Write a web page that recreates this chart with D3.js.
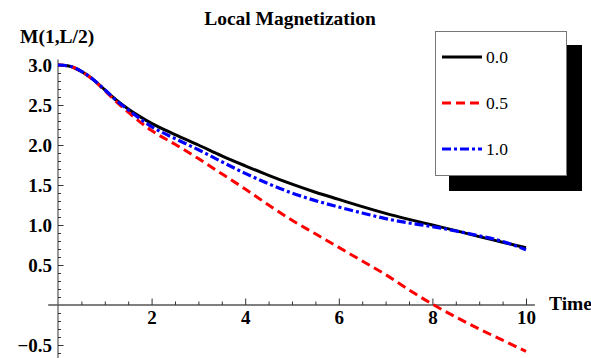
<!DOCTYPE html>
<html>
<head>
<meta charset="utf-8">
<script src="https://cdn.jsdelivr.net/npm/d3@7"></script>
<style>
  html, body { margin: 0; padding: 0; background: #fff; }
  svg { display: block; }
  text { font-family: "Liberation Serif", "Times New Roman", serif; }
</style>
</head>
<body>
<svg id="chart" width="591" height="358"></svg>
<script>
// ---- data ----
const times = [0, 0.25, 0.5, 0.75, 1, 1.25, 1.5, 1.75, 2, 2.5, 3, 3.5, 4, 4.5, 5, 5.5, 6, 6.5, 7, 7.5, 8, 8.5, 9, 9.5, 10];
const series00 = [3.00, 2.985, 2.92, 2.82, 2.69, 2.56, 2.45, 2.355, 2.27, 2.13, 2.00, 1.865, 1.74, 1.62, 1.51, 1.41, 1.32, 1.23, 1.145, 1.07, 1.00, 0.93, 0.855, 0.785, 0.715];
const series05 = [3.00, 2.985, 2.92, 2.815, 2.68, 2.54, 2.41, 2.29, 2.18, 2.01, 1.83, 1.64, 1.45, 1.25, 1.06, 0.89, 0.72, 0.55, 0.38, 0.19, 0.01, -0.15, -0.30, -0.44, -0.58];
const series10 = [3.00, 2.985, 2.92, 2.82, 2.69, 2.555, 2.44, 2.33, 2.23, 2.08, 1.94, 1.79, 1.645, 1.515, 1.40, 1.305, 1.225, 1.15, 1.08, 1.025, 0.98, 0.925, 0.865, 0.795, 0.69];
const seriesNames = ["0.0", "0.5", "1.0"];
const xMajorTicks = [2, 4, 6, 8, 10];
const yMajorTicks = [-0.5, 0.5, 1.0, 1.5, 2.0, 2.5, 3.0];
const titleText = "Local Magnetization";
const yLabelText = "M(1,L/2)";
const xLabelText = "Time";

// ---- layout ----
const svg = d3.select("#chart");
const x = d3.scaleLinear().domain([0, 10]).range([58, 526]);
const y = d3.scaleLinear().domain([0, 3]).range([305, 65]);

const styles = [
  { color: "#000", dash: null, width: 3 },
  { color: "#ff0000", dash: "9,5", width: 3 },
  { color: "#0000ff", dash: "9,3,3,3", width: 3.2 }
];
const allSeries = [series00, series05, series10];

// minor tick values
const xMinor = d3.range(0.5, 10.01, 0.5).filter(v => Math.abs(v / 2 - Math.round(v / 2)) > 1e-6);
const yMinor = d3.range(-6, 31).map(i => i / 10).filter(v => Math.abs(v * 2 - Math.round(v * 2)) > 1e-6);

// axis lines
svg.append("line").attr("x1", x(-0.21)).attr("x2", x(10.19)).attr("y1", y(0)).attr("y2", y(0))
  .attr("stroke", "#000").attr("stroke-width", 1.2);
svg.append("line").attr("x1", x(0)).attr("x2", x(0)).attr("y1", y(3.07)).attr("y2", 358)
  .attr("stroke", "#555").attr("stroke-width", 1.2);

// x axis
const gxMinor = svg.append("g").attr("transform", `translate(0,${y(0)})`)
  .call(d3.axisBottom(x).tickValues(xMinor).tickSize(-3.5).tickFormat(""));
const gx = svg.append("g").attr("transform", `translate(0,${y(0)})`)
  .call(d3.axisBottom(x).tickValues(xMajorTicks).tickSize(-6.5).tickPadding(7).tickFormat(d3.format("d")));
// y axis
const gyMinor = svg.append("g").attr("transform", `translate(${x(0)},0)`)
  .call(d3.axisLeft(y).tickValues(yMinor).tickSize(-3).tickFormat(""));
const gy = svg.append("g").attr("transform", `translate(${x(0)},0)`)
  .call(d3.axisLeft(y).tickValues(yMajorTicks).tickSize(-5.5).tickPadding(6).tickFormat(d3.format(".1f")));

[gxMinor, gx, gyMinor, gy].forEach(g => {
  g.select(".domain").remove();
  g.selectAll(".tick line").attr("stroke", "#333").attr("stroke-width", 1);
  g.selectAll("text").attr("font-family", "'Liberation Serif', 'Times New Roman', serif")
    .attr("font-size", 19).attr("font-weight", "bold").attr("fill", "#000");
});
gx.selectAll("text").attr("dy", "0.71em").attr("y", 6);

// lines
const line = d3.line().x((d, i) => x(times[i])).y(d => y(d)).curve(d3.curveMonotoneX);
allSeries.forEach((s, k) => {
  svg.append("path").datum(s).attr("d", line).attr("fill", "none")
    .attr("stroke", styles[k].color).attr("stroke-width", styles[k].width)
    .attr("stroke-dasharray", styles[k].dash);
});

// titles
svg.append("text").attr("x", 290).attr("y", 25).attr("text-anchor", "middle")
  .attr("font-size", 19.5).attr("font-weight", "bold").text(titleText);
svg.append("text").attr("x", 20).attr("y", 43)
  .attr("font-size", 19.5).attr("font-weight", "bold").text(yLabelText);
svg.append("text").attr("x", 549).attr("y", 310)
  .attr("font-size", 19.5).attr("font-weight", "bold").text(xLabelText);

// legend
svg.append("rect").attr("x", 449).attr("y", 45).attr("width", 133).attr("height", 146).attr("fill", "#000");
svg.append("rect").attr("x", 435.5).attr("y", 31.5).attr("width", 131).attr("height", 144)
  .attr("fill", "#fff").attr("stroke", "#777").attr("stroke-width", 1);
const legY = [57, 103, 149];
seriesNames.forEach((name, k) => {
  svg.append("line").attr("x1", 442).attr("x2", 482).attr("y1", legY[k]).attr("y2", legY[k])
    .attr("stroke", styles[k].color).attr("stroke-width", 3)
    .attr("stroke-dasharray", styles[k].dash);
  svg.append("text").attr("x", 486).attr("y", legY[k] + 6)
    .attr("font-size", 17.5).text(name);
});
</script>
</body>
</html>
